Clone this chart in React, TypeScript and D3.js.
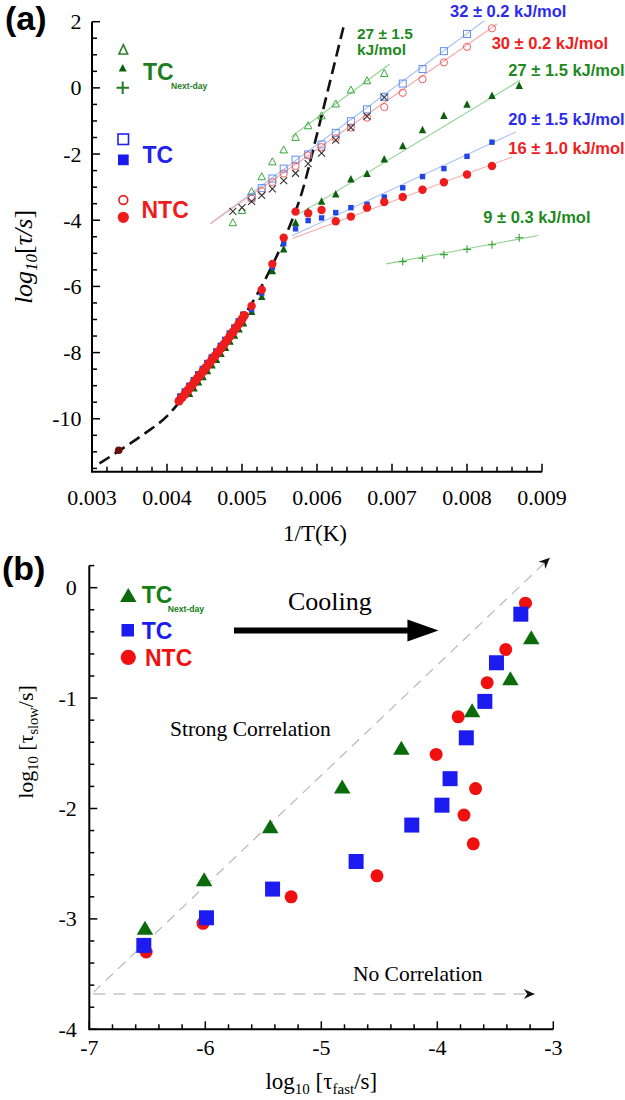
import * as d3 from 'd3'

type Pt = [number, number]

const SERIF = '"Liberation Serif", "Times New Roman", serif'
const SANS = '"Liberation Sans", Arial, sans-serif'

// ---------- panel (a): log10(tau/s) against 1/T ----------
const aXTicks = [0.003, 0.004, 0.005, 0.006, 0.007, 0.008, 0.009]
const aYTicks = [2, 0, -2, -4, -6, -8, -10]

// dashed VFT fit
const vftFit: Pt[] = [
  [0.0031, -11.35], [0.00336, -10.97], [0.0037, -10.45], [0.004, -9.92],
  [0.0042, -9.4], [0.0045, -8.55], [0.0048, -7.68], [0.005, -6.98],
  [0.0052, -6.25], [0.0054, -5.38], [0.0056, -4.38], [0.0058, -3.15],
  [0.006, -1.4], [0.0062, 0.43], [0.00636, 1.9],
]
const roomTemp: Pt[] = [[0.003356, -10.95]]

// dense high temperature data (single step relaxation)
const ntcCluster: Pt[] = [
  [0.00416, -9.46], [0.0042, -9.36], [0.00424, -9.25], [0.00428, -9.13], [0.00432, -9.02],
  [0.00436, -8.91], [0.0044, -8.79], [0.00444, -8.68], [0.00448, -8.57], [0.00452, -8.45],
  [0.00456, -8.33], [0.0046, -8.22], [0.00464, -8.1], [0.00468, -7.99], [0.00472, -7.87],
  [0.00476, -7.75], [0.0048, -7.63], [0.00484, -7.5], [0.00488, -7.38], [0.00492, -7.25],
  [0.00496, -7.13], [0.005, -6.99], [0.00503, -6.88],
]
const tcCluster: Pt[] = [
  [0.00417, -9.31], [0.00423, -9.16], [0.00429, -8.99], [0.00435, -8.82], [0.00441, -8.64],
  [0.00447, -8.48], [0.00453, -8.3], [0.00459, -8.13], [0.00465, -7.95], [0.00471, -7.78],
  [0.00477, -7.6], [0.00483, -7.41], [0.00489, -7.23], [0.00495, -7.04], [0.00501, -6.84],
]
const nextDayCluster: Pt[] = [
  [0.0043, -9.23], [0.00436, -9.06], [0.00442, -8.88], [0.00448, -8.72], [0.00454, -8.54],
  [0.0046, -8.37], [0.00466, -8.2], [0.00472, -8.02], [0.00478, -7.84], [0.00484, -7.65],
  [0.0049, -7.47], [0.00496, -7.28], [0.00502, -7.1],
]

// filled symbols (T = 195 K down to 115 K)
const ntcFilled: Pt[] = [
  [0.005128, -6.59], [0.005263, -6.1], [0.005405, -5.32], [0.005556, -4.53], [0.005714, -3.74],
  [0.005882, -3.79], [0.006061, -3.69], [0.00625, -4.03], [0.006452, -3.89], [0.006667, -3.62],
  [0.006897, -3.45], [0.007143, -3.3], [0.007407, -3.08], [0.007692, -2.85], [0.008, -2.62],
  [0.008333, -2.36],
]
const tcFilled: Pt[] = [
  [0.005128, -6.7], [0.005263, -6.2], [0.005405, -5.42], [0.005556, -4.71], [0.005714, -4.26],
  [0.005882, -4.01], [0.006061, -3.93], [0.00625, -3.77], [0.006452, -3.62], [0.006667, -3.52],
  [0.006897, -3.3], [0.007143, -3.02], [0.007407, -2.68], [0.007692, -2.44], [0.008, -2.07],
  [0.008333, -1.64],
]
const nextDayFilled: Pt[] = [
  [0.005128, -6.75], [0.005263, -6.3], [0.005405, -5.52], [0.005556, -4.86], [0.005714, -4.06],
  [0.005882, -3.72], [0.006061, -3.42], [0.00625, -3.2], [0.006452, -2.75], [0.006667, -2.58],
  [0.006897, -2.14], [0.007143, -1.74], [0.007407, -1.26], [0.007692, -0.83], [0.008, -0.49],
  [0.008333, -0.22], [0.008696, 0.08],
]

// open symbols
const tcOpen: Pt[] = [
  [0.005128, -3.31], [0.005263, -3.03], [0.005405, -2.74], [0.005556, -2.44], [0.005714, -2.17],
  [0.005882, -2.01], [0.006061, -1.71], [0.00625, -1.36], [0.006452, -1.01], [0.006667, -0.65],
  [0.006897, -0.27], [0.007143, 0.13], [0.007407, 0.57], [0.007692, 1.11], [0.008, 1.63],
]
const ntcOpen: Pt[] = [
  [0.005128, -3.35], [0.005263, -3.12], [0.005405, -2.85], [0.005556, -2.59], [0.005714, -2.36],
  [0.005882, -2.04], [0.006061, -1.79], [0.00625, -1.52], [0.006452, -1.2], [0.006667, -0.9],
  [0.006897, -0.58], [0.007143, -0.15], [0.007407, 0.26], [0.007692, 0.77], [0.008, 1.24],
  [0.008333, 1.8],
]
const nextDayOpen: Pt[] = [
  [0.004878, -4.06], [0.005, -3.69], [0.005128, -3.12], [0.005263, -2.67], [0.005405, -2.22],
  [0.005556, -1.86], [0.005714, -1.48], [0.005882, -1.13], [0.006061, -0.83], [0.00625, -0.47],
  [0.006452, -0.05], [0.006667, 0.23], [0.006897, 0.45],
]
const crosses: Pt[] = [
  [0.004878, -3.73], [0.005, -3.62], [0.005128, -3.43], [0.005263, -3.25], [0.005405, -3.05],
  [0.005556, -2.8], [0.005714, -2.58], [0.005882, -2.29], [0.006061, -1.97], [0.00625, -1.58],
  [0.006452, -1.2], [0.006667, -0.86], [0.006897, -0.29],
]
const nextDayPlus: Pt[] = [
  [0.007143, -5.25], [0.007407, -5.15], [0.007692, -5.04], [0.008, -4.88], [0.008333, -4.74],
  [0.008696, -4.53],
]

// Arrhenius fits (start, end)
const fitTcOpen: Pt[] = [[0.00458, -4.1], [0.00823, 2.03]]
const fitNtcOpen: Pt[] = [[0.00458, -4.1], [0.0084, 1.93]]
const fitNextOpen: Pt[] = [[0.00565, -1.49], [0.00697, 0.72]]
const fitNextFilled: Pt[] = [[0.00577, -3.8], [0.00871, 0.23]]
const fitTcFilled: Pt[] = [[0.00567, -4.47], [0.00865, -1.33]]
const fitNtcFilled: Pt[] = [[0.00567, -4.55], [0.0086, -2.09]]
const fitPlus: Pt[] = [[0.006923, -5.32], [0.008947, -4.46]]

const energyText = ['32 ± 0.2 kJ/mol', '30 ± 0.2 kJ/mol', '27 ± 1.5 kJ/mol', '20 ± 1.5 kJ/mol', '16 ± 1.0 kJ/mol', '9 ± 0.3 kJ/mol']
const energyAt: Pt[] = [[0.007773, 2.127], [0.008329, 1.173], [0.008551, 0.37], [0.008551, -1.115], [0.008551, -1.994], [0.008217, -4.085]]
const energyColor = ['#2b2bee', '#ee2020', '#1e8a1e', '#2b2bee', '#ee2020', '#1e8a1e']

// ---------- panel (b): log10(tau_slow) against log10(tau_fast) ----------
const bXTicks = [-7, -6, -5, -4, -3]
const bYTicks = [0, -1, -2, -3, -4]

const bNextDay: Pt[] = [
  [-6.52, -3.08], [-6.01, -2.64], [-5.44, -2.16], [-4.82, -1.8], [-4.31, -1.45],
  [-3.7, -1.11], [-3.37, -0.82], [-3.19, -0.45],
]
const bTc: Pt[] = [
  [-6.53, -3.24], [-5.99, -2.99], [-5.42, -2.73], [-4.7, -2.48], [-4.22, -2.15], [-3.96, -1.97],
  [-3.89, -1.73], [-3.75, -1.36], [-3.59, -1.03], [-3.49, -0.68], [-3.28, -0.24],
]
const bNtc: Pt[] = [
  [-6.51, -3.3], [-6.02, -3.04], [-5.26, -2.8], [-4.52, -2.61], [-3.69, -2.32], [-3.77, -2.06],
  [-3.67, -1.82], [-4.01, -1.51], [-3.82, -1.17], [-3.57, -0.86], [-3.41, -0.56], [-3.24, -0.14],
]

const strongLine: Pt[] = [[-6.965, -3.665], [-3.03, 0.27]]
const noLine: Pt[] = [[-6.965, -3.68], [-3.16, -3.68]]
const coolingArrow: Pt[] = [[-5.753, -0.388], [-3.99, -0.388]]
const coolingAt: Pt = [-5.287, -0.2]
const strongAt: Pt = [-6.304, -1.343]
const noAt: Pt = [-4.727, -3.566]

const GREEN_DARK = '#0c5f0c'
const GREEN = '#1e7d1e'
const BLUE = '#1f45e6'
const RED = '#ee1c1c'

function tri(cx: number, cy: number, w: number, h: number) {
  return `M${cx},${cy - h / 2}L${cx + w / 2},${cy + h / 2}L${cx - w / 2},${cy + h / 2}Z`
}

function PanelA() {
  const left = 92
  const right = 542
  const top = 21.7
  const bottom = 471.7
  const x = d3.scaleLinear().domain([0.003, 0.009]).range([left, right])
  const y = d3.scaleLinear().domain([-11.6, 2]).range([bottom, top])
  const line = d3.line<Pt>().x((d) => x(d[0])).y((d) => y(d[1]))
  const curve = d3.line<Pt>().x((d) => x(d[0])).y((d) => y(d[1])).curve(d3.curveMonotoneX)
  const xMinor = d3.range(31).map((i) => 0.003 + i * 0.0002)
  const yMinor = d3.range(28).map((i) => -11.5 + i * 0.5)

  const fits: [Pt[], string][] = [
    [fitNextOpen, '#8fd18f'],
    [fitTcOpen, '#a9c2f2'],
    [fitNtcOpen, '#f5a9a9'],
    [fitNextFilled, '#8fd18f'],
    [fitTcFilled, '#a9c2f2'],
    [fitNtcFilled, '#f5a9a9'],
    [fitPlus, '#8fd18f'],
  ]

  return (
    <g>
      {fits.map(([pts, color], i) => (
        <path key={i} d={line(pts) ?? ''} fill="none" stroke={color} strokeWidth="1.1" />
      ))}
      <path d={curve(vftFit) ?? ''} fill="none" stroke="#111" strokeWidth="2.6" strokeDasharray="12 6" />

      {nextDayOpen.map((d, i) => (
        <path key={`no${i}`} d={tri(x(d[0]), y(d[1]), 7.5, 7)} fill="none" stroke="#37a837" strokeWidth="1" />
      ))}
      {tcOpen.map((d, i) => (
        <rect key={`to${i}`} x={x(d[0]) - 3.5} y={y(d[1]) - 3.5} width="7" height="7" fill="none" stroke="#5f90ef" strokeWidth="1" />
      ))}
      {ntcOpen.map((d, i) => (
        <circle key={`co${i}`} cx={x(d[0])} cy={y(d[1])} r="3.6" fill="none" stroke="#f05c5c" strokeWidth="1" />
      ))}
      {crosses.map((d, i) => {
        const cx = x(d[0])
        const cy = y(d[1])
        return (
          <path key={`x${i}`} d={`M${cx - 3.5},${cy - 3.5}L${cx + 3.5},${cy + 3.5}M${cx - 3.5},${cy + 3.5}L${cx + 3.5},${cy - 3.5}`} stroke="#333" strokeWidth="1.1" />
        )
      })}
      {nextDayPlus.map((d, i) => {
        const cx = x(d[0])
        const cy = y(d[1])
        return <path key={`p${i}`} d={`M${cx - 4},${cy}H${cx + 4}M${cx},${cy - 4}V${cy + 4}`} stroke="#35a535" strokeWidth="1.1" />
      })}

      {nextDayCluster.concat(nextDayFilled).map((d, i) => (
        <path key={`nf${i}`} d={tri(x(d[0]), y(d[1]), 7.5, 7.5)} fill={GREEN_DARK} />
      ))}
      {tcCluster.concat(tcFilled).map((d, i) => (
        <rect key={`tf${i}`} x={x(d[0]) - 2.7} y={y(d[1]) - 2.7} width="5.4" height="5.4" fill={BLUE} />
      ))}
      {ntcCluster.map((d, i) => (
        <circle key={`cc${i}`} cx={x(d[0])} cy={y(d[1])} r="4.6" fill={RED} />
      ))}
      {ntcFilled.map((d, i) => (
        <circle key={`cf${i}`} cx={x(d[0])} cy={y(d[1])} r="4.2" fill={RED} />
      ))}
      {roomTemp.map((d, i) => (
        <circle key={`rt${i}`} cx={x(d[0])} cy={y(d[1])} r="3.8" fill="#6b0c0c" />
      ))}

      {energyText.map((t, i) => (
        <text key={t + i} x={x(energyAt[i][0])} y={y(energyAt[i][1])} fontFamily={SANS} fontWeight="bold" fontSize="16.5" fill={energyColor[i]}>
          {t}
        </text>
      ))}
      <text x={x(0.006533)} y={y(1.47)} fontFamily={SANS} fontWeight="bold" fontSize="15.5" fill="#1e8a1e">27 ± 1.5</text>
      <text x={x(0.006533)} y={y(1.0)} fontFamily={SANS} fontWeight="bold" fontSize="15.5" fill="#1e8a1e">kJ/mol</text>

      {/* axes */}
      <path d={`M${left},${top}V${bottom}H${right}`} fill="none" stroke="#000" strokeWidth="2" />
      {xMinor.map((v, i) => (
        <line key={`xt${i}`} x1={x(v)} x2={x(v)} y1={bottom} y2={bottom - (i % 5 === 0 ? 8 : 5)} stroke="#000" strokeWidth="1.5" />
      ))}
      {yMinor.map((v, i) => (
        <line key={`yt${i}`} x1={left} x2={left + (Number.isInteger(v) && v % 2 === 0 ? 8 : 5)} y1={y(v)} y2={y(v)} stroke="#000" strokeWidth="1.5" />
      ))}
      {aXTicks.map((v) => (
        <text key={v} x={x(v)} y={bottom + 33} textAnchor="middle" fontFamily={SERIF} fontSize="22">
          {v.toFixed(3)}
        </text>
      ))}
      {aYTicks.map((v) => (
        <text key={v} x={left - 10.5} y={y(v) + 7.5} textAnchor="end" fontFamily={SERIF} fontSize="22">
          {String(v)}
        </text>
      ))}
      <text x={(left + right) / 2 - 2} y={bottom + 69} textAnchor="middle" fontFamily={SERIF} fontSize="23">1/T(K)</text>
      <text transform="translate(32,257) rotate(-90)" textAnchor="middle" fontFamily={SERIF} fontSize="26">
        <tspan fontStyle="italic">log</tspan>
        <tspan fontStyle="italic" fontSize="17" dy="5">10</tspan>
        <tspan dy="-5">[</tspan>
        <tspan fontStyle="italic">τ/s</tspan>
        <tspan>]</tspan>
      </text>

      {/* legend */}
      <path d={tri(123.3, 49.3, 8.7, 9.5)} fill="none" stroke="#2f7f2f" strokeWidth="1.6" />
      <path d={tri(122.7, 67.7, 8, 7.5)} fill={GREEN_DARK} />
      <path d="M116.5,87.7H129M122.7,81.5V94" stroke={GREEN} strokeWidth="2" />
      <text x="143" y="80" fontFamily={SANS} fontWeight="bold" fontSize="23" fill={GREEN}>TC</text>
      <text x="171" y="89" fontFamily={SANS} fontWeight="bold" fontSize="8.6" fill={GREEN}>Next-day</text>
      <rect x="118" y="134" width="10.5" height="10.5" fill="none" stroke="#2222ee" strokeWidth="1.6" />
      <rect x="118" y="154.5" width="10.7" height="10.7" fill="#1a1aee" />
      <text x="142.5" y="162.7" fontFamily={SANS} fontWeight="bold" fontSize="23" fill="#2222ee">TC</text>
      <circle cx="123.3" cy="200" r="4.4" fill="none" stroke={RED} strokeWidth="1.6" />
      <circle cx="123.3" cy="217.3" r="5.6" fill={RED} />
      <text x="141.5" y="218.3" fontFamily={SANS} fontWeight="bold" fontSize="23" fill={RED}>NTC</text>

      <text x="5" y="30" fontFamily={SANS} fontWeight="bold" fontSize="34">(a)</text>
    </g>
  )
}

function PanelB() {
  const left = 89.3
  const right = 553.3
  const top = 565.6
  const bottom = 1029.3
  const x = d3.scaleLinear().domain([-7, -3]).range([left, right])
  const y = d3.scaleLinear().domain([-4, 0.2]).range([bottom, top])
  const line = d3.line<Pt>().x((d) => x(d[0])).y((d) => y(d[1]))
  const xMinor = d3.range(21).map((i) => -7 + i * 0.2)
  const yMinor = d3.range(22).map((i) => -4 + i * 0.2)

  const sEnd = strongLine[1]
  const sStart = strongLine[0]
  const sAngle = (Math.atan2(y(sEnd[1]) - y(sStart[1]), x(sEnd[0]) - x(sStart[0])) * 180) / Math.PI
  const nEnd = noLine[1]
  const cStart = coolingArrow[0]
  const cEnd = coolingArrow[1]
  const head = 'M0,0L-11,-5L-7.5,0L-11,5Z'

  return (
    <g>
      <path d={line(strongLine) ?? ''} stroke="#b8b8b8" strokeWidth="1.2" strokeDasharray="10 7" fill="none" />
      <path d={head} fill="#111" transform={`translate(${x(sEnd[0])},${y(sEnd[1])}) rotate(${sAngle})`} />
      <path d={line(noLine) ?? ''} stroke="#c4c4c4" strokeWidth="1.4" strokeDasharray="12 8" fill="none" />
      <path d={head} fill="#111" transform={`translate(${x(nEnd[0])},${y(nEnd[1])})`} />

      <line x1={x(cStart[0])} x2={x(cEnd[0]) - 29} y1={y(cStart[1])} y2={y(cEnd[1])} stroke="#000" strokeWidth="6" />
      <path d={`M${x(cEnd[0])},${y(cEnd[1])}L${x(cEnd[0]) - 31},${y(cEnd[1]) - 11}L${x(cEnd[0]) - 31},${y(cEnd[1]) + 11}Z`} fill="#000" />

      <text x={x(coolingAt[0])} y={y(coolingAt[1])} fontFamily={SERIF} fontSize="26">Cooling</text>
      <text x={x(strongAt[0])} y={y(strongAt[1])} fontFamily={SERIF} fontSize="21.5">Strong Correlation</text>
      <text x={x(noAt[0])} y={y(noAt[1])} fontFamily={SERIF} fontSize="21.5">No Correlation</text>

      {bNtc.map((d, i) => (
        <circle key={`r${i}`} cx={x(d[0])} cy={y(d[1])} r="6.5" fill="#f01010" />
      ))}
      {bTc.map((d, i) => (
        <rect key={`b${i}`} x={x(d[0]) - 7.5} y={y(d[1]) - 7.5} width="15" height="15" fill="#1c1cf0" />
      ))}
      {bNextDay.map((d, i) => (
        <path key={`g${i}`} d={tri(x(d[0]), y(d[1]), 16.5, 14)} fill="#0b6b0b" />
      ))}

      {/* axes */}
      <path d={`M${left},${top}V${bottom}H${right}`} fill="none" stroke="#000" strokeWidth="2" />
      {xMinor.map((v, i) => (
        <line key={`xt${i}`} x1={x(v)} x2={x(v)} y1={bottom} y2={bottom - (i % 5 === 0 ? 8 : 5)} stroke="#000" strokeWidth="1.5" />
      ))}
      {yMinor.map((v, i) => (
        <line key={`yt${i}`} x1={left} x2={left + (i % 5 === 0 ? 8 : 5)} y1={y(v)} y2={y(v)} stroke="#000" strokeWidth="1.5" />
      ))}
      {bXTicks.map((v) => (
        <text key={v} x={x(v)} y={bottom + 25.5} textAnchor="middle" fontFamily={SERIF} fontSize="22">
          {String(v)}
        </text>
      ))}
      {bYTicks.map((v) => (
        <text key={v} x={left - 12.5} y={y(v) + 7.5} textAnchor="end" fontFamily={SERIF} fontSize="22">
          {String(v)}
        </text>
      ))}
      <text x={(left + right) / 2} y={bottom + 60} textAnchor="middle" fontFamily={SERIF} fontSize="23">
        log<tspan fontSize="15" dy="5">10</tspan>
        <tspan dy="-5"> [τ</tspan>
        <tspan fontSize="15" dy="5">fast</tspan>
        <tspan dy="-5">/s]</tspan>
      </text>
      <text transform="translate(33,742) rotate(-90)" textAnchor="middle" fontFamily={SERIF} fontSize="22">
        log<tspan fontSize="14.5" dy="5">10</tspan>
        <tspan dy="-5"> [τ</tspan>
        <tspan fontSize="14.5" dy="5">slow</tspan>
        <tspan dy="-5">/s]</tspan>
      </text>

      {/* legend */}
      <path d={tri(128.3, 595, 16.5, 14)} fill="#0b6b0b" />
      <text x="141.7" y="602.7" fontFamily={SANS} fontWeight="bold" fontSize="23" fill="#138013">TC</text>
      <text x="167.7" y="611.5" fontFamily={SANS} fontWeight="bold" fontSize="8.6" fill="#138013">Next-day</text>
      <rect x="121.5" y="624" width="12.5" height="12.5" fill="#1c1cf0" />
      <text x="141.7" y="638.7" fontFamily={SANS} fontWeight="bold" fontSize="23" fill="#1c1cf0">TC</text>
      <circle cx="128.3" cy="657.3" r="7.6" fill="#f01010" />
      <text x="145" y="666" fontFamily={SANS} fontWeight="bold" fontSize="23" fill="#f01010">NTC</text>

      <text x="2" y="580" fontFamily={SANS} fontWeight="bold" fontSize="34">(b)</text>
    </g>
  )
}

export default function App() {
  return (
    <>
      <style>{'body{margin:0}'}</style>
      <svg width={625} height={1100} viewBox="0 0 625 1100" style={{ display: 'block', background: '#fff' }}>
        <PanelA />
        <PanelB />
      </svg>
    </>
  )
}
